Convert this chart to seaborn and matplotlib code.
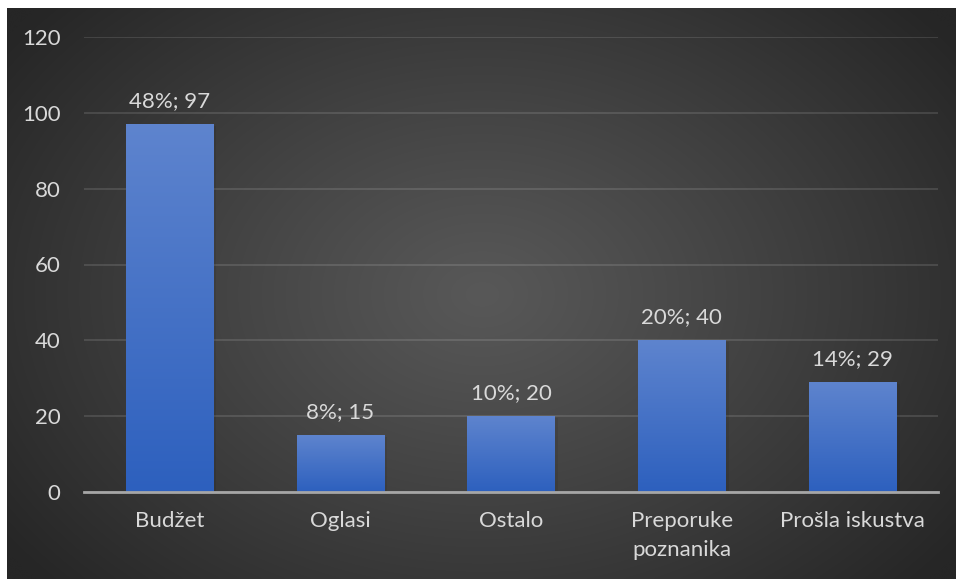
import numpy as np
import pandas as pd
import matplotlib
matplotlib.use("Agg")
import matplotlib.pyplot as plt
import seaborn as sns

categories = ["Budžet", "Oglasi", "Ostalo", "Preporuke\npoznanika", "Prošla iskustva"]
counts = [97, 15, 20, 40, 29]
shares = [48, 8, 10, 20, 14]
y_ticks = [0, 20, 40, 60, 80, 100, 120]

sns.set_theme(style="dark")
plt.rcParams["font.family"] = ["Lato", "DejaVu Sans"]

W, H = 956, 579
fig = plt.figure(figsize=(W / 100, H / 100), dpi=100, facecolor="white")

# dark radial background panel
bg = fig.add_axes([7 / W, 0, (W - 7) / W, (H - 8) / H])
bg.set_axis_off()
ny, nx = 300, 500
yy, xx = np.mgrid[0:ny, 0:nx]
cx, cy = nx * 0.50, ny * 0.50
r = np.sqrt(((xx - cx) / (nx * 0.62)) ** 2 + ((yy - cy) / (ny * 0.75)) ** 2)
r = np.clip(r, 0, 1)
inner, outer = 0x58 / 255, 0x26 / 255
val = inner + (outer - inner) * r ** 1.1
img = np.dstack([val, val, val])
bg.imshow(img, aspect="auto", extent=[0, 1, 0, 1], interpolation="bicubic")
bg.set_xlim(0, 1)
bg.set_ylim(0, 1)

ax = fig.add_axes([84 / W, (H - 492) / H, 854 / W, 455 / H])
ax.patch.set_alpha(0)

df = pd.DataFrame({"category": categories, "count": counts})
sns.barplot(data=df, x="category", y="count", ax=ax, width=0.51,
            color="#4472C4", saturation=1)

ax.set_ylim(0, 120)
ax.set_xlim(-0.5, len(categories) - 0.5)
ax.set_yticks(y_ticks)
ax.grid(axis="y", color="#ffffff", alpha=0.12, linewidth=1.4)
ax.grid(axis="x", visible=False)
ax.set_axisbelow(True)
for s in ["top", "right", "left"]:
    ax.spines[s].set_visible(False)
ax.spines["bottom"].set_color("#A6A6A6")
ax.spines["bottom"].set_linewidth(2)
ax.spines["bottom"].set_zorder(5)
ax.tick_params(axis="both", length=0, colors="#D9D9D9", labelsize=16)
ax.tick_params(axis="y", pad=17)
ax.tick_params(axis="x", pad=14)
for lbl in ax.get_xticklabels():
    lbl.set_linespacing(1.55)
ax.set_xlabel("")
ax.set_ylabel("")

# vertical blue gradient inside each bar
grad = np.linspace(0, 1, 256).reshape(-1, 1)
top = np.array([0x5E, 0x84, 0xCE]) / 255
bot = np.array([0x2D, 0x60, 0xBE]) / 255
gimg = top[None, None, :] * (1 - grad[:, :, None]) + bot[None, None, :] * grad[:, :, None]
for patch in ax.patches:
    x0, y0 = patch.get_x(), patch.get_y()
    w, h = patch.get_width(), patch.get_height()
    patch.set_facecolor("none")
    patch.set_edgecolor("none")
    ax.imshow(gimg, extent=[x0, x0 + w, y0, y0 + h], aspect="auto",
              zorder=2, interpolation="bilinear")
    # soft shadow to the right of the bar
    ax.fill_between([x0 + w, x0 + w + 0.02], [0, 0], [h - 0.5, h - 0.5],
                    color="black", alpha=0.07, linewidth=0, zorder=1.5)

ax.set_xlim(-0.5, len(categories) - 0.5)
ax.set_ylim(0, 120)

for i, (c, s) in enumerate(zip(counts, shares)):
    ax.text(i, c + 3.5, f"{s}%; {c}", ha="center", va="bottom",
            color="#D9D9D9", fontsize=16)

fig.savefig("out.png", dpi=100, facecolor="white")
